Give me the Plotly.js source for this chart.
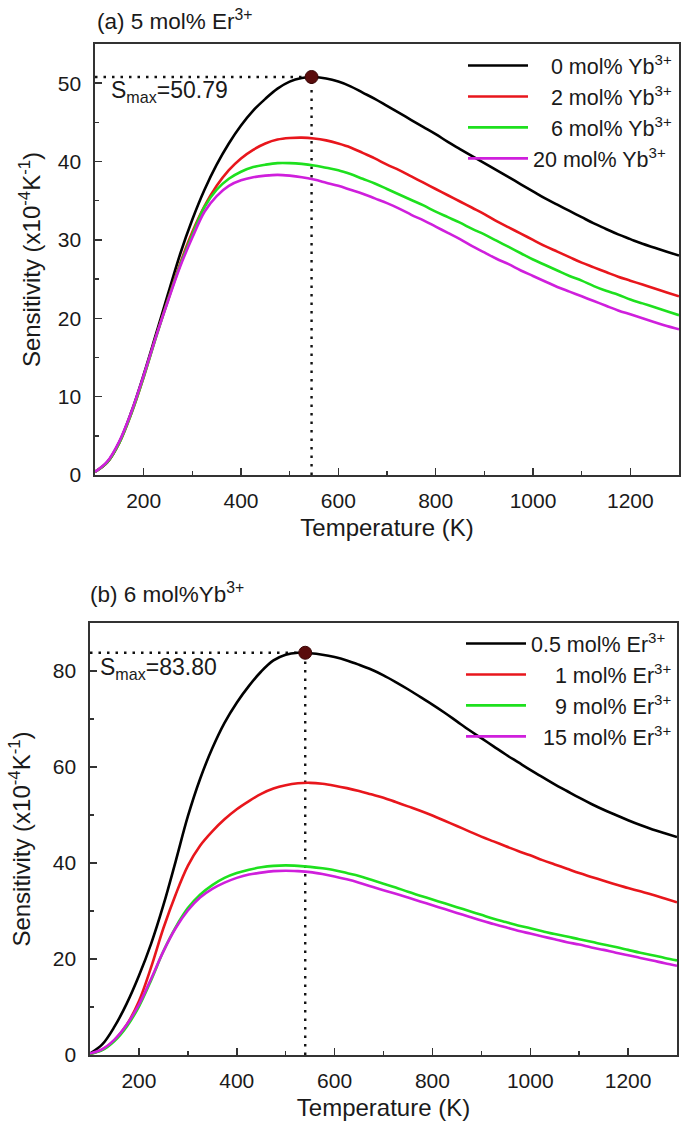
<!DOCTYPE html>
<html>
<head>
<meta charset="utf-8">
<script src="https://cdn.plot.ly/plotly-3.0.1.min.js"></script>
<style>
  html, body { margin: 0; padding: 0; background: #fff; }
  #chart { width: 685px; height: 1135px; }
</style>
</head>
<body>
<div id="chart"></div>
<script>
// temperature grid (K) shared by every curve
var temps = [100, 125, 150, 175, 200, 225, 250, 275, 300, 325, 350, 375, 400, 425, 450, 475, 500, 525, 550, 575,
             600, 625, 650, 675, 700, 725, 750, 775, 800, 825, 850, 875, 900, 925, 950, 975, 1000, 1025, 1050, 1075,
             1100, 1125, 1150, 1175, 1200, 1225, 1250, 1275, 1300];

// (a) 5 mol% Er, varying Yb
var yb0  = [0.4, 1.6, 4.2, 8.1, 12.8, 17.9, 23.1, 28.2, 32.6, 36.4, 39.6, 42.3, 44.6, 46.5, 48.0, 49.3, 50.2, 50.65, 50.78, 50.6,
            50.2, 49.6, 48.8, 48.0, 47.1, 46.2, 45.3, 44.4, 43.5, 42.5, 41.6, 40.7, 39.8, 38.9, 38.0, 37.1, 36.2, 35.3, 34.5, 33.7,
            32.9, 32.1, 31.4, 30.7, 30.1, 29.5, 29.0, 28.5, 28.0];
var yb2  = [0.4, 1.6, 4.1, 7.9, 12.5, 17.6, 22.4, 27.0, 31.0, 34.3, 36.9, 38.9, 40.4, 41.5, 42.3, 42.8, 43.0, 43.05, 42.95, 42.7,
            42.3, 41.8, 41.1, 40.4, 39.6, 38.9, 38.1, 37.3, 36.5, 35.7, 34.9, 34.1, 33.3, 32.4, 31.6, 30.8, 30.0, 29.2, 28.5, 27.8,
            27.1, 26.5, 25.9, 25.3, 24.8, 24.3, 23.8, 23.3, 22.8];
var yb6  = [0.4, 1.6, 4.1, 7.9, 12.5, 17.5, 22.3, 26.8, 30.7, 34.2, 36.4, 37.8, 38.7, 39.3, 39.6, 39.8, 39.8, 39.7, 39.5, 39.2,
            38.9, 38.4, 37.8, 37.2, 36.5, 35.8, 35.1, 34.4, 33.6, 32.9, 32.2, 31.4, 30.7, 29.9, 29.1, 28.3, 27.5, 26.8, 26.1, 25.4,
            24.8, 24.1, 23.5, 23.0, 22.4, 21.9, 21.4, 20.9, 20.4];
var yb20 = [0.4, 1.7, 4.3, 8.1, 12.7, 17.6, 22.2, 26.6, 30.3, 33.6, 35.6, 36.9, 37.6, 38.0, 38.2, 38.3, 38.2, 38.0, 37.7, 37.3,
            36.9, 36.4, 35.9, 35.3, 34.7, 34.0, 33.2, 32.5, 31.7, 30.9, 30.1, 29.2, 28.4, 27.6, 26.9, 26.1, 25.4, 24.7, 24.0, 23.4,
            22.8, 22.2, 21.6, 21.0, 20.5, 20.0, 19.5, 19.0, 18.6];

// (b) 6 mol% Yb, varying Er
var er05 = [0.3, 2.2, 5.9, 10.7, 16.5, 23.2, 31.2, 40.3, 49.7, 57.5, 63.9, 69.2, 73.4, 76.9, 79.9, 82.2, 83.4, 83.8, 83.7, 83.4,
            82.9, 82.2, 81.3, 80.3, 79.1, 77.7, 76.2, 74.6, 73.0, 71.3, 69.5, 67.7, 66.0, 64.3, 62.6, 61.0, 59.4, 57.9, 56.4, 55.0,
            53.6, 52.3, 51.1, 50.0, 48.9, 47.9, 47.0, 46.2, 45.4];
var er1  = [0.2, 1.1, 3.1, 6.3, 11.2, 18.3, 26.4, 33.4, 39.4, 43.6, 46.6, 49.1, 51.2, 52.9, 54.4, 55.5, 56.2, 56.6, 56.7, 56.5,
            56.1, 55.6, 55.0, 54.3, 53.6, 52.7, 51.8, 50.9, 49.9, 48.8, 47.7, 46.6, 45.5, 44.5, 43.5, 42.5, 41.6, 40.6, 39.7, 38.8,
            37.9, 37.1, 36.3, 35.5, 34.8, 34.1, 33.4, 32.6, 31.8];
var er9  = [0.2, 1.0, 2.9, 5.9, 10.1, 15.6, 21.6, 26.6, 30.6, 33.4, 35.4, 36.9, 37.9, 38.6, 39.1, 39.4, 39.5, 39.4, 39.2, 38.9,
            38.5, 37.9, 37.3, 36.5, 35.7, 34.9, 34.0, 33.2, 32.4, 31.6, 30.8, 30.0, 29.2, 28.4, 27.7, 27.0, 26.4, 25.8, 25.2, 24.7,
            24.1, 23.6, 23.0, 22.5, 21.9, 21.3, 20.8, 20.2, 19.7];
var er15 = [0.3, 1.2, 3.2, 6.3, 10.5, 15.9, 21.6, 26.4, 30.1, 32.8, 34.6, 35.9, 36.9, 37.6, 38.0, 38.3, 38.4, 38.3, 38.1, 37.7,
            37.2, 36.6, 35.9, 35.1, 34.3, 33.6, 32.8, 32.0, 31.2, 30.4, 29.6, 28.8, 28.0, 27.3, 26.6, 25.9, 25.3, 24.7, 24.1, 23.5,
            23.0, 22.4, 21.9, 21.3, 20.8, 20.2, 19.7, 19.1, 18.6];

// maxima marked on each panel
var peakT = [545, 540];
var peakS = [50.79, 83.80];

var namesA = ["\u2007 0 mol% Yb<sup>3+</sup>", "\u2007 2 mol% Yb<sup>3+</sup>", "\u2007 6 mol% Yb<sup>3+</sup>", "20 mol% Yb<sup>3+</sup>"];
var namesB = ["0.5 mol% Er<sup>3+</sup>", "\u2007\u2008 1 mol% Er<sup>3+</sup>", "\u2007\u2008 9 mol% Er<sup>3+</sup>", "\u2008 15 mol% Er<sup>3+</sup>"];
var colors = ["#000000", "#e8161c", "#1ee01e", "#cf1fdc"];

var FONT = "Liberation Sans, Arial, sans-serif";
var W = 685, H = 1135;

var data = [];

// dotted guides
[0, 1].forEach(function (i) {
  var xa = i === 0 ? "x" : "x2", ya = i === 0 ? "y" : "y2";
  var guide = {color: "#111", width: 2.4, dash: "2.5px,6px"};
  data.push({x: [100, peakT[i]], y: [peakS[i], peakS[i]], xaxis: xa, yaxis: ya,
    mode: "lines", line: guide, showlegend: false, hoverinfo: "skip"});
  data.push({x: [peakT[i], peakT[i]], y: [0, peakS[i]], xaxis: xa, yaxis: ya,
    mode: "lines", line: guide, showlegend: false, hoverinfo: "skip"});
});

var setA = [yb0, yb2, yb6, yb20];
var setB = [er05, er1, er9, er15];
setA.forEach(function (s, k) {
  data.push({x: temps, y: s, xaxis: "x", yaxis: "y", name: namesA[k], legend: "legend",
    mode: "lines", line: {color: colors[k], width: 2.6, shape: "spline", smoothing: 1}});
});
setB.forEach(function (s, k) {
  data.push({x: temps, y: s, xaxis: "x2", yaxis: "y2", name: namesB[k], legend: "legend2",
    mode: "lines", line: {color: colors[k], width: 2.6, shape: "spline", smoothing: 1}});
});

// peak dots
[0, 1].forEach(function (i) {
  data.push({x: [peakT[i]], y: [peakS[i]], xaxis: i === 0 ? "x" : "x2", yaxis: i === 0 ? "y" : "y2",
    mode: "markers", marker: {color: "#5a0c0c", size: 13, line: {color: "#3a0505", width: 1}},
    showlegend: false, hoverinfo: "skip"});
});

function xAxis(dom, anchor) {
  return {
    domain: dom, anchor: anchor, range: [100, 1300], tick0: 0, dtick: 200,
    ticks: "inside", ticklen: 7, tickwidth: 1.5, tickcolor: "#333",
    minor: {dtick: 100, ticks: "inside", ticklen: 4, tickwidth: 1.5, tickcolor: "#333"},
    showline: true, mirror: true, linecolor: "#333", linewidth: 1.6,
    showgrid: false, zeroline: false, automargin: false,
    ticklabelstandoff: 6,
    tickfont: {family: FONT, size: 21, color: "#1a1a1a"},
    title: {text: "Temperature (K)", font: {family: FONT, size: 24, color: "#1a1a1a"}, standoff: 8}
  };
}
function yAxis(dom, anchor, top, step, standoff) {
  return {
    domain: dom, anchor: anchor, range: [0, top], tick0: 0, dtick: step,
    ticks: "inside", ticklen: 7, tickwidth: 1.5, tickcolor: "#333",
    minor: {dtick: step / 2, ticks: "inside", ticklen: 4, tickwidth: 1.5, tickcolor: "#333"},
    showline: true, mirror: true, linecolor: "#333", linewidth: 1.6,
    showgrid: false, zeroline: false, automargin: false,
    ticklabelstandoff: 8,
    tickfont: {family: FONT, size: 21, color: "#1a1a1a"},
    title: {text: "Sensitivity (x10<sup>-4</sup>K<sup>-1</sup>)", font: {family: FONT, size: 24, color: "#1a1a1a"}, standoff: standoff}
  };
}

var legendStyle = function (ypx) {
  return {
    x: 1 - 8 / W, xanchor: "right", y: 1 - ypx / H, yanchor: "top",
    bgcolor: "rgba(0,0,0,0)", borderwidth: 0, itemwidth: 60, tracegroupgap: 0,
    font: {family: FONT, size: 21.5, color: "#1a1a1a"}
  };
};

var layout = {
  width: W, height: H,
  margin: {l: 0, r: 0, t: 0, b: 0},
  paper_bgcolor: "#fff", plot_bgcolor: "#fff",
  font: {family: FONT},
  xaxis: xAxis([95 / W, 679 / W], "y"),
  yaxis: yAxis([1 - 475 / H, 1 - 44 / H], "x", 55, 10, 10),
  xaxis2: xAxis([90 / W, 677 / W], "y2"),
  yaxis2: yAxis([1 - 1055 / H, 1 - 623 / H], "x2", 90, 20, 15),
  legend: legendStyle(45),
  legend2: legendStyle(623),
  annotations: [
    {xref: "paper", yref: "paper", x: 95 / W, y: 1 - 20 / H, xanchor: "left", yanchor: "middle",
     text: "(a) 5 mol% Er<sup>3+</sup>", showarrow: false, font: {family: FONT, size: 22.5, color: "#1a1a1a"}},
    {xref: "paper", yref: "paper", x: 88 / W, y: 1 - 593 / H, xanchor: "left", yanchor: "middle",
     text: "(b) 6 mol%Yb<sup>3+</sup>", showarrow: false, font: {family: FONT, size: 22.5, color: "#1a1a1a"}},
    {xref: "x", yref: "y", x: 128, y: 48.9, xanchor: "left", yanchor: "middle",
     text: "S<sub>max</sub>=" + peakS[0].toFixed(2), showarrow: false, font: {family: FONT, size: 23, color: "#1a1a1a"}},
    {xref: "x2", yref: "y2", x: 116, y: 80.6, xanchor: "left", yanchor: "middle",
     text: "S<sub>max</sub>=" + peakS[1].toFixed(2), showarrow: false, font: {family: FONT, size: 23, color: "#1a1a1a"}}
  ],
  showlegend: true
};

Plotly.newPlot("chart", data, layout, {staticPlot: true, displayModeBar: false});
</script>
</body>
</html>
